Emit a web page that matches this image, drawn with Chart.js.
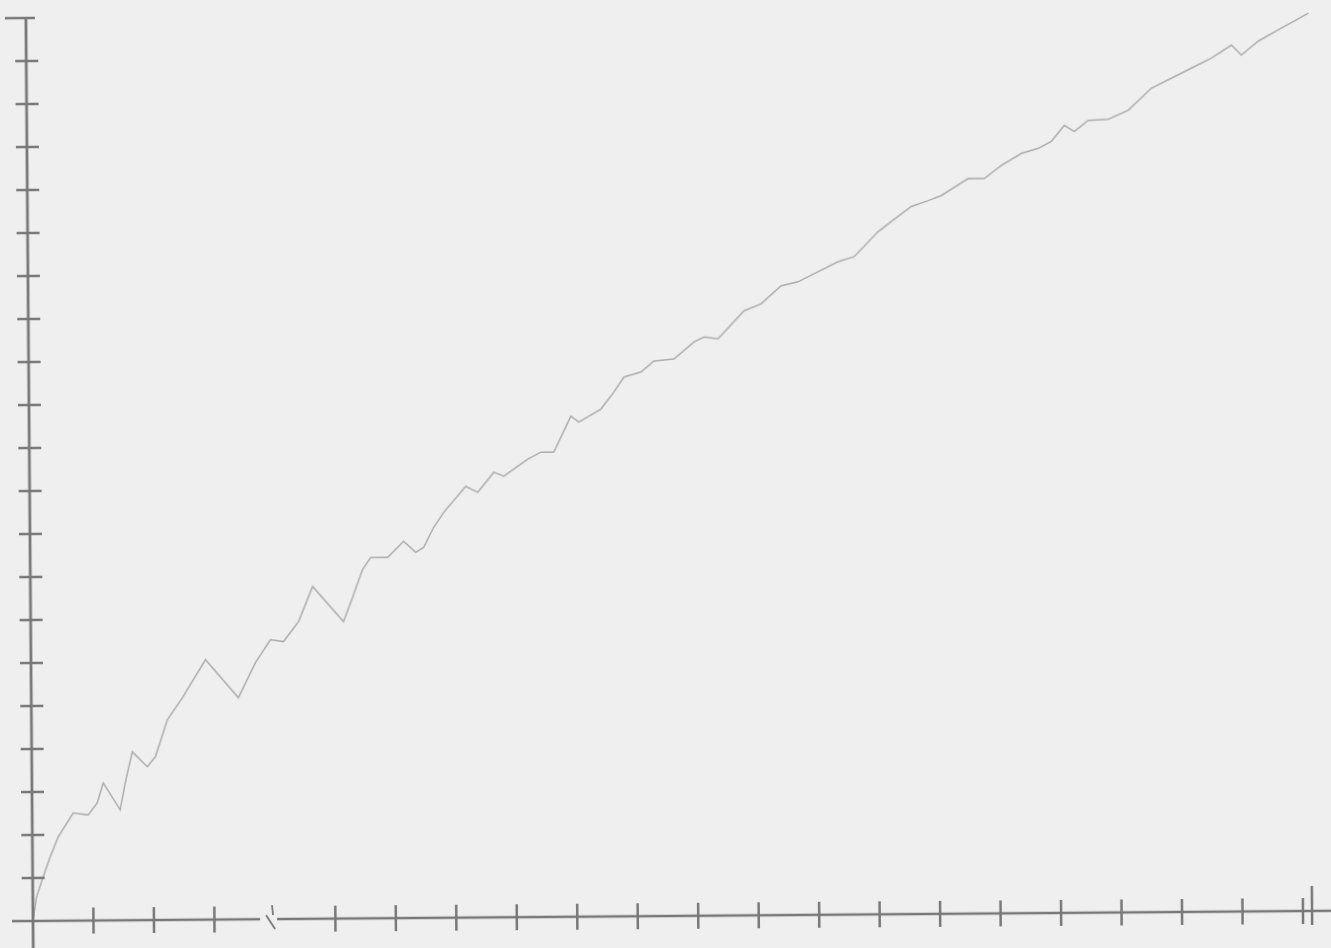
<!DOCTYPE html>
<html>
<head>
<meta charset="utf-8">
<script src="https://cdn.jsdelivr.net/npm/chart.js@4/dist/chart.umd.min.js"></script>
<style>
  html, body { margin: 0; padding: 0; background: #efefef; overflow: hidden; }
  #plot {
    display: block;
    transform: rotate(-0.45deg);
    transform-origin: 33px 921px;
    filter: blur(0.6px);
  }
</style>
</head>
<body>
<canvas id="plot" width="1331" height="948"></canvas>
<script>
// Cumulative curve: horizontal position and value of each recorded point
const xValues = [
  0.000, 0.060, 0.156, 0.292, 0.427, 0.679, 0.927, 1.077, 1.180, 1.456,
  1.543, 1.664, 1.910, 2.044, 2.248, 2.500, 2.886, 3.425, 3.712, 3.964,
  4.178, 4.430, 4.667, 5.173, 5.326, 5.496, 5.630, 5.911, 6.178, 6.375,
  6.508, 6.676, 6.844, 7.212, 7.410, 7.677, 7.842, 8.241, 8.457, 8.672,
  8.959, 9.091, 9.456, 9.674, 9.842, 10.124, 10.340, 10.671, 11.005, 11.171,
  11.402, 11.836, 12.118, 12.452, 12.733, 13.066, 13.398, 13.663, 14.064, 14.281,
  14.614, 14.896, 15.112, 15.561, 15.825, 16.108, 16.441, 16.722, 16.938, 17.156,
  17.320, 17.553, 17.884, 18.216, 18.600, 19.265, 19.597, 19.930, 20.093, 20.376,
  20.759, 20.975, 21.207
];
const yValues = [
  0.000, 0.550, 0.952, 1.486, 1.950, 2.506, 2.457, 2.735, 3.199, 2.569,
  3.196, 3.916, 3.565, 3.796, 4.655, 5.164, 6.045, 5.156, 5.967, 6.500,
  6.452, 6.915, 7.727, 6.908, 7.465, 8.115, 8.392, 8.390, 8.760, 8.502,
  8.617, 9.081, 9.428, 10.030, 9.888, 10.351, 10.257, 10.649, 10.810, 10.808,
  11.642, 11.502, 11.801, 12.194, 12.541, 12.655, 12.909, 12.953, 13.345, 13.460,
  13.412, 14.059, 14.219, 14.635, 14.725, 14.955, 15.185, 15.298, 15.876, 16.107,
  16.453, 16.590, 16.704, 17.096, 17.093, 17.393, 17.669, 17.783, 17.944, 18.314,
  18.173, 18.427, 18.447, 18.654, 19.162, 19.621, 19.851, 20.150, 19.916, 20.239,
  20.538, 20.699, 20.883
];

// Axis tick positions (unlabelled) and the axis break
const xTickValues = [1, 2, 3, 5, 6, 7, 8, 9, 10, 11, 12, 13, 14, 15, 16, 17, 18, 19, 20, 21];
const yTickValues = [1, 2, 3, 4, 5, 6, 7, 8, 9, 10, 11, 12, 13, 14, 15, 16, 17, 18, 19, 20, 21];
const xBreakValue = 3.97;
const xEndMarkValue = 21.15;

const points = xValues.map((x, i) => ({ x: x, y: yValues[i] }));

// Draws the crossing axes with centred tick marks, the break and end mark
const crossAxes = {
  id: 'crossAxes',
  afterDatasetsDraw(chart) {
    const { ctx, scales } = chart;
    const xs = scales.x, ys = scales.y;
    const x0 = xs.getPixelForValue(0);
    const y0 = ys.getPixelForValue(0);
    const yTop = ys.getPixelForValue(21);
    ctx.save();
    ctx.strokeStyle = '#787878';
    ctx.lineCap = 'butt';

    // y axis, running past the x axis to the bottom edge
    ctx.lineWidth = 2.8;
    ctx.beginPath();
    ctx.moveTo(x0, yTop);
    ctx.lineTo(x0, chart.height + 10);
    ctx.stroke();

    // x axis with a gap at the break
    const gapL = xs.getPixelForValue(xBreakValue) - 13;
    const gapR = xs.getPixelForValue(xBreakValue) + 4;
    ctx.lineWidth = 2.3;
    ctx.beginPath();
    ctx.moveTo(x0 - 21, y0);
    ctx.lineTo(gapL, y0);
    ctx.moveTo(gapR, y0);
    ctx.lineTo(chart.width + 10, y0);
    ctx.stroke();

    // y ticks
    ctx.lineWidth = 2.3;
    ctx.beginPath();
    yTickValues.forEach(v => {
      const py = ys.getPixelForValue(v);
      if (v === 21) {
        ctx.moveTo(x0 - 21, py);
        ctx.lineTo(x0 + 9, py);
      } else {
        ctx.moveTo(x0 - 11, py);
        ctx.lineTo(x0 + 12, py);
      }
    });
    ctx.stroke();

    // x ticks
    ctx.lineWidth = 2.5;
    ctx.beginPath();
    xTickValues.forEach(v => {
      const px = xs.getPixelForValue(v);
      ctx.moveTo(px, y0 - 13);
      ctx.lineTo(px, y0 + 13);
    });
    // tall end mark
    const pe = xs.getPixelForValue(xEndMarkValue);
    ctx.moveTo(pe, y0 - 25);
    ctx.lineTo(pe, y0 + 14);
    ctx.stroke();

    // break symbol
    const pb = xs.getPixelForValue(xBreakValue);
    ctx.lineWidth = 1.8;
    ctx.beginPath();
    ctx.moveTo(pb - 1, y0 - 14);
    ctx.lineTo(pb, y0 - 4);
    ctx.moveTo(pb - 7, y0 - 4);
    ctx.lineTo(pb + 2, y0 + 10);
    ctx.stroke();

    ctx.restore();
  }
};

new Chart(document.getElementById('plot'), {
  type: 'scatter',
  data: {
    datasets: [{
      data: points,
      showLine: true,
      borderColor: '#acacac',
      borderWidth: 1.5,
      pointRadius: 0,
      tension: 0,
      clip: false
    }]
  },
  options: {
    responsive: false,
    devicePixelRatio: 1,
    animation: false,
    layout: { padding: { left: 33, right: 28, top: 18, bottom: 27 } },
    plugins: { legend: { display: false }, tooltip: { enabled: false } },
    scales: {
      x: { type: 'linear', min: 0, max: 21, display: false },
      y: { type: 'linear', min: 0, max: 21, display: false }
    }
  },
  plugins: [crossAxes]
});
</script>
</body>
</html>
